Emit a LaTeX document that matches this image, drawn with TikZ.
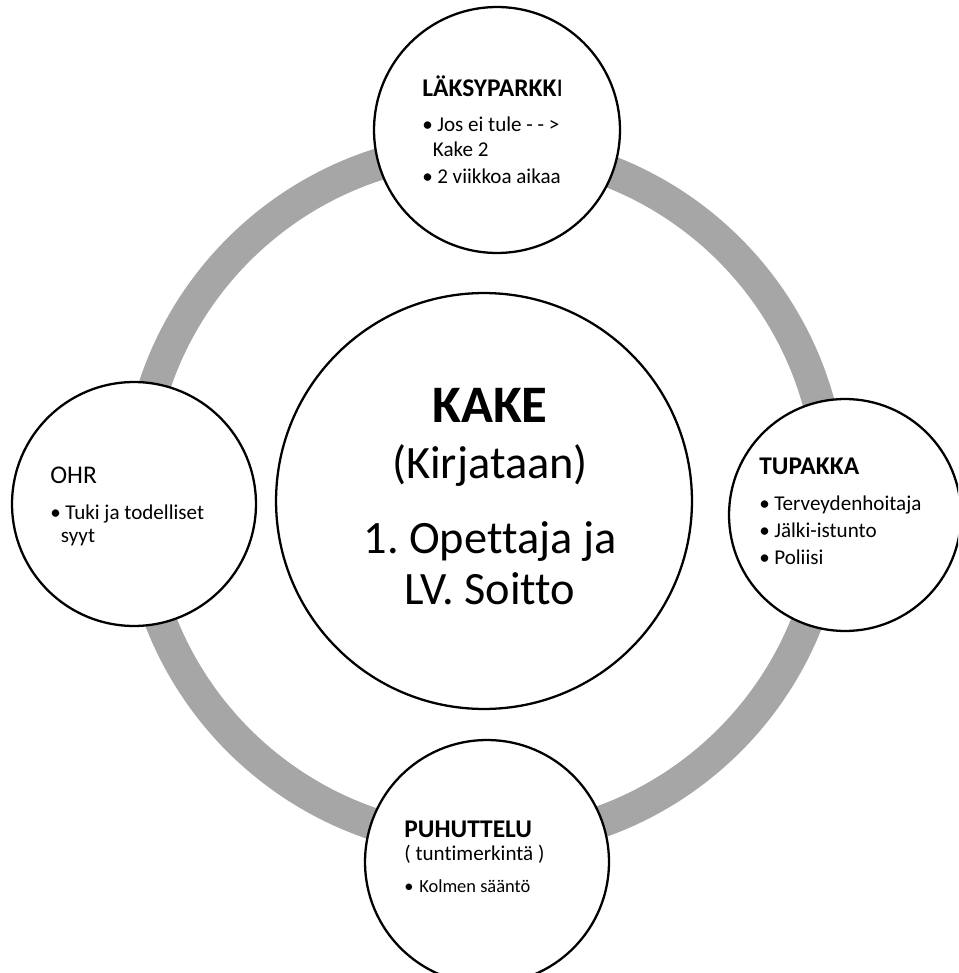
\documentclass[tikz,border=0pt]{standalone}
\usepackage{fontspec}
\setmainfont{Carlito}[Ligatures={TeX,NoCommon,NoContextual},Contextuals=NoAlternate]
\usepackage{tkz-euclide}
\tikzset{>=stealth}
\frenchspacing
\definecolor{ringgray}{RGB}{166,166,166}
\tikzset{
  bubble/.style={circle, draw=black, fill=white, line width=1.3pt, inner sep=0pt, minimum size=#1},
  block/.style={anchor=base west, inner sep=0pt, align=flush left, text width=#1},
}
\newcommand{\itm}{\makebox[8.5pt][l]{\textbullet}}
\newcommand{\hd}[1]{{\fontsize{14.5}{15}\selectfont\bfseries #1}}

\begin{document}
\begin{tikzpicture}[x=0.02cm, y=-0.02cm]
\useasboundingbox (0,0) rectangle (958,973);
\clip (0,0) rectangle (958,973);
\tkzDefPoints{484/501/O, 484/495/R, 497/130/A, 134/504/B, 845/515/C, 487/862/D}
% where the texts start
\tkzDefPoints{490/422/Ot, 422/97/At, 50/483/Bt, 759/474/Ct, 404/837/Dt}
\draw[ringgray, line width=0.64cm] (R) circle[radius=347];
\node[bubble=8.32cm] (kake) at (O) {};
\node[bubble=4.92cm] (laksy) at (A) {};
\node[bubble=4.88cm] (ohr) at (B) {};
\node[bubble=4.64cm] (tupakka) at (C) {};
\node[bubble=4.88cm] (puhuttelu) at (D) {};
\node[anchor=base, inner sep=0pt, align=flush center, text width=220pt,
      font=\fontsize{26.4}{29}\selectfont] (kaketext) at (Ot)
  {{\fontsize{30}{30}\selectfont\bfseries KAKE}\\[2.9pt]
   (Kirjataan)\\[13.7pt]
   1. Opettaja ja\\
   LV. Soitto};
\node[block=100pt, font=\fontsize{12}{14.2}\selectfont] (laksytext) at (At)
  {\hd{LÄKSYPARKK}{\fontsize{14.5}{15}\selectfont I}\\[5.7pt]
   \itm Jos ei tule - - >\\
   \hspace*{6pt}Kake 2\\[1.2pt]
   \itm 2 viikkoa aikaa};
\node[block=100pt, font=\fontsize{12}{13.1}\selectfont] (ohrtext) at (Bt)
  {{\fontsize{14.5}{15}\selectfont OHR}\\[7.4pt]
   \itm Tuki ja todelliset\\
   \hspace*{6pt}syyt};
\node[block=110pt, font=\fontsize{12}{15.6}\selectfont] (tupakkatext) at (Ct)
  {\hd{TUPAKKA}\\[4.9pt]
   \itm Terveydenhoitaja\\
   \itm Jälki-istunto\\
   \itm Poliisi};
\node[block=100pt, font=\fontsize{12}{13.1}\selectfont] (puhuttelutext) at (Dt)
  {\hd{PUHUTTELU}\\
   ( tuntimerkintä )\\[5.1pt]
   {\fontsize{10.5}{12}\selectfont\itm Kolmen sääntö}};
\end{tikzpicture}
\end{document}
